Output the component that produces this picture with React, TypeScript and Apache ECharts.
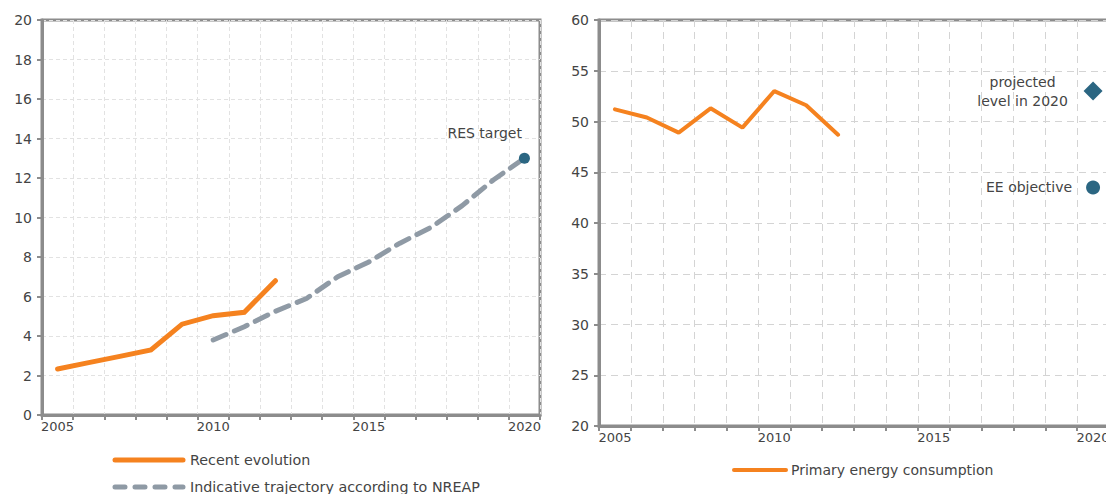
import React, { useEffect, useRef } from "react";
import * as echarts from "echarts";

const years = ["2005","2006","2007","2008","2009","2010","2011","2012","2013","2014","2015","2016","2017","2018","2019","2020"];
const resRecent = [2.33, 2.65, 2.97, 3.29, 4.6, 5.03, 5.2, 6.8, null, null, null, null, null, null, null, null];
const resTrajectory = [null, null, null, null, null, 3.8, 4.47, 5.25, 5.9, 7.0, 7.75, 8.7, 9.5, 10.6, 11.9, 13.0];
const resTarget = [null, null, null, null, null, null, null, null, null, null, null, null, null, null, null, 13.0];
const pec = [51.2, 50.4, 48.9, 51.3, 49.4, 53.0, 51.6, 48.7, null, null, null, null, null, null, null, null];
const projected2020 = [null, null, null, null, null, null, null, null, null, null, null, null, null, null, null, 53.0];
const eeObjective = [null, null, null, null, null, null, null, null, null, null, null, null, null, null, null, 43.5];
const leftTicks = { min: 0, max: 20, interval: 2 };
const rightTicks = { min: 20, max: 60, interval: 5 };

const FONT = "DejaVu Sans";
const AXIS = "#8c8c8c";
const TXT = "#444444";
const ORANGE = "#f5821f";
const GREYD = "#8f9aa5";
const TEAL = "#2b6682";

export default function App() {
  const ref = useRef<HTMLDivElement>(null);
  useEffect(() => {
    const chart = echarts.init(ref.current!, null, { renderer: "svg" });
    const xAxisBase = (gridIndex: number, dashed: any) => ({
      type: "category",
      gridIndex,
      data: years,
      boundaryGap: true,
      axisLine: { show: true, lineStyle: { color: AXIS, width: 3 } },
      axisTick: { show: true, interval: 0, length: 5, lineStyle: { color: AXIS, width: 2 } },
      axisLabel: { interval: 4, color: TXT, fontFamily: FONT, fontSize: 13, margin: 5 },
      splitLine: { show: true, interval: 0, lineStyle: dashed },
    });
    const yAxisBase = (gridIndex: number, t: any, dashed: any) => ({
      type: "value",
      gridIndex,
      min: t.min,
      max: t.max,
      interval: t.interval,
      axisLine: { show: true, lineStyle: { color: AXIS, width: 3 } },
      axisTick: { show: true, length: 5, lineStyle: { color: AXIS, width: 2 } },
      axisLabel: { color: TXT, fontFamily: FONT, fontSize: 14, margin: 10 },
      splitLine: { show: true, lineStyle: dashed },
    });
    const leftDash = { color: "#e2e2e2", type: [4, 3], width: 1 };
    const rightDash = { color: "#d4d4d4", type: [7, 5], width: 1 };
    chart.setOption({
      animation: false,
      textStyle: { fontFamily: FONT },
      grid: [
        { left: 42, top: 20, width: 498, height: 395, show: true, borderColor: AXIS, borderWidth: 3, outerBoundsMode: "none", containLabel: false },
        { left: 599, top: 20, width: 510, height: 406, show: true, borderColor: AXIS, borderWidth: 3, outerBoundsMode: "none", containLabel: false },
      ],
      xAxis: [xAxisBase(0, leftDash), xAxisBase(1, rightDash)],
      yAxis: [yAxisBase(0, leftTicks, leftDash), yAxisBase(1, rightTicks, rightDash)],
      series: [
        {
          type: "line", xAxisIndex: 0, yAxisIndex: 0, data: resTrajectory, showSymbol: false,
          lineStyle: { color: GREYD, width: 5, type: [14, 9], cap: "round" }, z: 2,
        },
        {
          type: "line", xAxisIndex: 0, yAxisIndex: 0, data: resRecent, showSymbol: false,
          lineStyle: { color: ORANGE, width: 5, cap: "round", join: "miter" }, z: 3,
        },
        {
          type: "scatter", xAxisIndex: 0, yAxisIndex: 0, data: resTarget, symbol: "circle", symbolSize: 11,
          itemStyle: { color: TEAL, opacity: 1 }, z: 4,
          label: { show: true, formatter: "RES target", position: "left", offset: [8, -25], color: TXT, fontFamily: FONT, fontSize: 14 },
        },
        {
          type: "line", xAxisIndex: 1, yAxisIndex: 1, data: pec, showSymbol: false,
          lineStyle: { color: ORANGE, width: 4, cap: "round" }, z: 3,
        },
        {
          type: "scatter", xAxisIndex: 1, yAxisIndex: 1, data: projected2020, symbol: "diamond", symbolSize: [19, 19],
          itemStyle: { color: TEAL, opacity: 1 }, z: 4,
          label: { show: true, formatter: "projected\nlevel in 2020", position: "left", distance: 12, align: "center", offset: [-49, 0], lineHeight: 19, color: TXT, fontFamily: FONT, fontSize: 14 },
        },
        {
          type: "scatter", xAxisIndex: 1, yAxisIndex: 1, data: eeObjective, symbol: "circle", symbolSize: 14,
          itemStyle: { color: TEAL, opacity: 1 }, z: 4,
          label: { show: true, formatter: "EE objective", position: "left", distance: 14, color: TXT, fontFamily: FONT, fontSize: 14 },
        },
      ],
      graphic: [
        { type: "line", shape: { x1: 115, y1: 460, x2: 183, y2: 460 }, style: { stroke: ORANGE, lineWidth: 5, lineCap: "round" } },
        { type: "text", x: 190, y: 460, style: { text: "Recent evolution", fill: TXT, font: `14.3px "${FONT}"`, textVerticalAlign: "middle" } },
        { type: "line", shape: { x1: 115, y1: 487, x2: 183, y2: 487 }, style: { stroke: GREYD, lineWidth: 5, lineCap: "round", lineDash: [10, 10] } },
        { type: "text", x: 190, y: 487, style: { text: "Indicative trajectory according to NREAP", fill: TXT, font: `14.3px "${FONT}"`, textVerticalAlign: "middle" } },
        { type: "line", shape: { x1: 734, y1: 470, x2: 786, y2: 470 }, style: { stroke: ORANGE, lineWidth: 4, lineCap: "round" } },
        { type: "text", x: 791, y: 470, style: { text: "Primary energy consumption", fill: TXT, font: `14px "${FONT}"`, textVerticalAlign: "middle" } },
      ],
    });
    return () => chart.dispose();
  }, []);
  return <div ref={ref} style={{ position: "absolute", left: 0, top: 0, width: 1106, height: 494 }} />;
}
